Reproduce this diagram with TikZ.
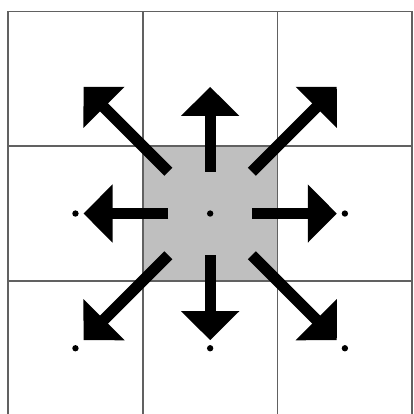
\documentclass[tikz,border=0pt]{standalone}
\usetikzlibrary{calc}
\usetikzlibrary{arrows.meta}

\begin{document}
\begin{tikzpicture}[x=3.35cm, y=3.35cm,
    gridline/.style={draw=black!62, line width=1.3pt},
    bigarrow/.style={line width=8pt, -{Triangle[length=20.5pt, width=40pt]}},
    dot/.style={circle, fill=black, inner sep=0pt, minimum size=4.5pt}]
    \useasboundingbox (-0.06, 0.012) rectangle (3.007, 3.085);

    % Centre cell shaded
    \fill[black!25] (1, 1) rectangle (2, 2);

    % 3x3 grid
    \foreach \i in {0,1,2,3} {
        \draw[gridline] (\i, 0) -- (\i, 3);
        \draw[gridline] (0, \i) -- (3, \i);
    }

    % Cell centres
    \foreach \i in {0,1,2} {
        \foreach \j in {0,1,2} {
            \coordinate (c-\i-\j) at (\i+0.5, \j+0.5);
        }
    }

    % Dots (centre, middle row and bottom row)
    \foreach \i/\j in {1/1, 0/1, 2/1, 0/0, 1/0, 2/0} {
        \node[dot] (p-\i-\j) at (c-\i-\j) {};
    }

    % Arrows from the centre cell towards its eight neighbours
    \foreach \i/\j in {0/2, 1/2, 2/2, 0/1, 2/1, 0/0, 1/0, 2/0} {
        \draw[bigarrow] ($(c-1-1)!0.31!(c-\i-\j)$) -- ($(c-1-1)!0.94!(c-\i-\j)$);
    }
\end{tikzpicture}
\end{document}
